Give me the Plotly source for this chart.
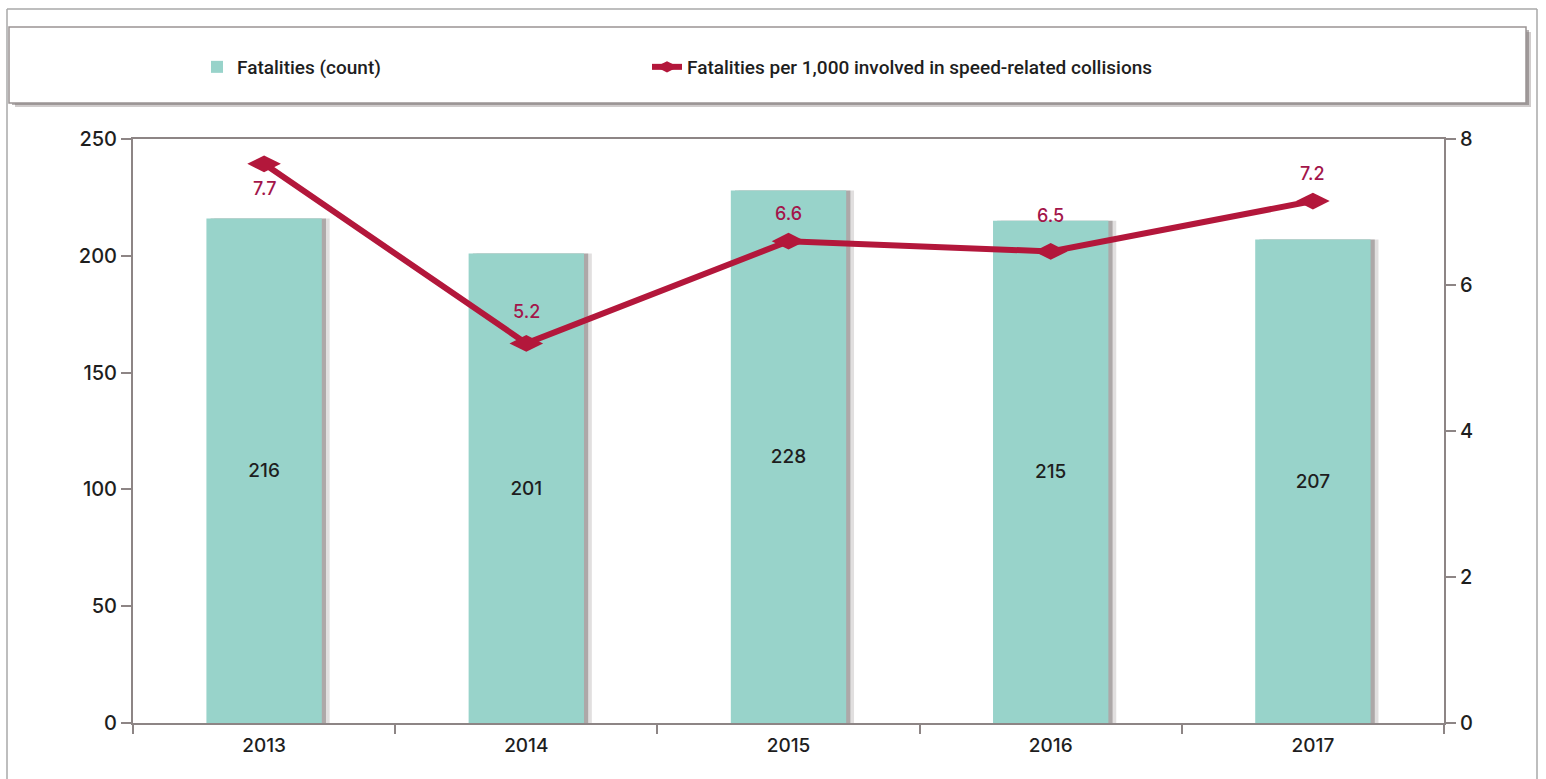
import plotly.graph_objects as go

# ---- data ----
years = ["2013", "2014", "2015", "2016", "2017"]
fatalities = [216, 201, 228, 215, 207]
rate_per_1000 = [7.66, 5.2, 6.6, 6.46, 7.15]
rate_labels = ["7.7", "5.2", "6.6", "6.5", "7.2"]
left_ticks = [0, 50, 100, 150, 200, 250]
right_ticks = [0, 2, 4, 6, 8]

# ---- geometry helpers (pixel -> paper) ----
W, H = 1546, 779
ML, MR, MT, MB = 133, 102, 139, 56
PW, PH = W - ML - MR, H - MT - MB


def px(x):
    return (x - ML) / PW


def py(y):
    return (H - MB - y) / PH


BAR_COLOR = "#98d3ca"
LINE_COLOR = "#b3173b"
LABEL_RED = "#a3154a"
AXIS_COLOR = "#8d8585"
TXT = "#1e1e1e"
FONT = "Inter"

fig = go.Figure()

# bar shadow (soft, two layers)
fig.add_trace(go.Bar(
    x=years, y=fatalities, width=0.44, offset=-0.22 + 0.03,
    marker=dict(color="rgba(120,110,110,0.22)", line=dict(width=0)),
    showlegend=False, hoverinfo="skip",
))
fig.add_trace(go.Bar(
    x=years, y=fatalities, width=0.44, offset=-0.22 + 0.016,
    marker=dict(color="rgba(95,85,85,0.40)", line=dict(width=0)),
    showlegend=False, hoverinfo="skip",
))

fig.add_trace(go.Bar(
    x=years, y=fatalities, width=0.44, offset=-0.22,
    name="Fatalities (count)", legend="legend",
    marker=dict(color=BAR_COLOR, line=dict(width=0)),
    text=[str(v) for v in fatalities], textposition="inside",
    insidetextanchor="middle",
    textfont=dict(family=FONT, size=19, color=TXT, weight=500),
))

fig.add_trace(go.Scatter(
    x=years, y=rate_per_1000, yaxis="y2", mode="lines+markers",
    name="Fatalities per 1,000 involved in speed-related collisions", legend="legend2",
    line=dict(color=LINE_COLOR, width=6),
    marker=dict(symbol="diamond-wide", size=24, color=LINE_COLOR),
))

label_shift = [-25, 32, 28, 36, 28]
for i, (v, lab, s) in enumerate(zip(rate_per_1000, rate_labels, label_shift)):
    fig.add_annotation(x=i, xref="x", y=v, yref="y2", text=lab, showarrow=False,
                       yshift=s, font=dict(family=FONT, size=18, color=LABEL_RED, weight=500))

shapes = [
    # outer frame
    dict(type="line", xref="paper", yref="paper", x0=px(7), x1=px(7), y0=py(9), y1=py(779),
         line=dict(color="#a9a9a9", width=1.5)),
    dict(type="line", xref="paper", yref="paper", x0=px(7), x1=px(1537), y0=py(9), y1=py(9),
         line=dict(color="#a9a9a9", width=1.5)),
    dict(type="line", xref="paper", yref="paper", x0=px(1537), x1=px(1537), y0=py(9), y1=py(779),
         line=dict(color="#a9a9a9", width=1.5)),
    # legend box shadow
    dict(type="rect", xref="paper", yref="paper", x0=px(15), x1=px(1531), y0=py(32), y1=py(107),
         fillcolor="rgba(120,110,110,0.35)", line=dict(width=0)),
    dict(type="rect", xref="paper", yref="paper", x0=px(12), x1=px(1529), y0=py(30), y1=py(105),
         fillcolor="rgba(100,90,90,0.45)", line=dict(width=0)),
    # legend box
    dict(type="rect", xref="paper", yref="paper", x0=px(9), x1=px(1526), y0=py(27), y1=py(103),
         fillcolor="white", line=dict(color="#9a9494", width=1.5)),
]

legend_font = dict(family="Roboto", size=19, color=TXT, weight=500)

fig.update_layout(
    width=W, height=H,
    margin=dict(l=ML, r=MR, t=MT, b=MB, autoexpand=False),
    paper_bgcolor="white", plot_bgcolor="white",
    barmode="overlay",
    shapes=shapes,
    showlegend=True,
    legend=dict(orientation="h", x=px(197), y=py(67), xanchor="left", yanchor="middle",
                bgcolor="rgba(0,0,0,0)", borderwidth=0, font=legend_font),
    legend2=dict(orientation="h", x=px(647), y=py(67), xanchor="left", yanchor="middle",
                 bgcolor="rgba(0,0,0,0)", borderwidth=0, font=legend_font),
    xaxis=dict(type="category", range=[-0.5, 4.5], showgrid=False, showline=True,
               linecolor=AXIS_COLOR, linewidth=2, automargin=False,
               mirror=True, ticks="outside", tickson="boundaries", ticklen=9, tickcolor=AXIS_COLOR,
               tickwidth=1.5, tickangle=0, ticklabelstandoff=4,
               tickfont=dict(family=FONT, size=19, color=TXT, weight=500)),
    yaxis=dict(range=[0, 250], tickvals=left_ticks, showgrid=False, zeroline=False, showline=True,
               linecolor=AXIS_COLOR, linewidth=2, ticks="outside", ticklen=10, tickcolor=AXIS_COLOR,
               automargin=False,
               tickwidth=1.5, tickfont=dict(family=FONT, size=20, color=TXT, weight=500)),
    yaxis2=dict(range=[0, 8], tickvals=right_ticks, overlaying="y", side="right", showgrid=False,
                zeroline=False, showline=True, linecolor=AXIS_COLOR, linewidth=2, ticks="outside",
                ticklen=10, tickcolor=AXIS_COLOR, tickwidth=1.5, automargin=False,
                tickfont=dict(family=FONT, size=20, color=TXT, weight=500)),
)

fig.write_html("out.html", config={"displayModeBar": False},
               post_script="document.body.style.margin='0';")
